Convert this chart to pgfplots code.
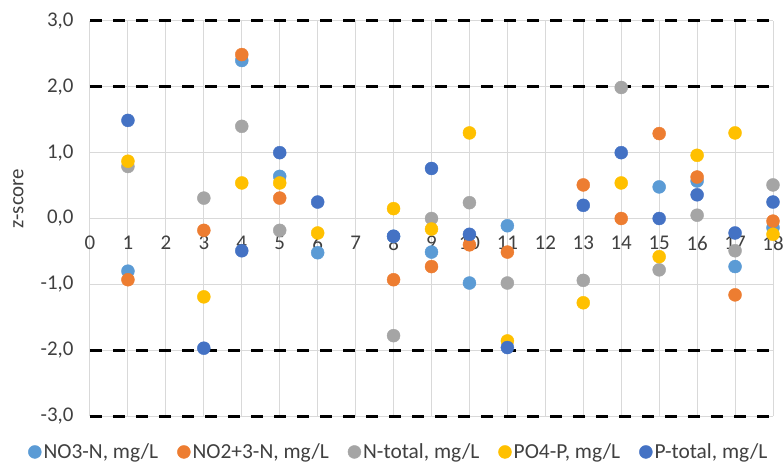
\documentclass[border=0pt]{standalone}
\usepackage{fontspec}
\setmainfont{Carlito}
\usepackage{pgfplots}
\pgfplotsset{compat=1.18}
\definecolor{cLB}{HTML}{5B9BD5}
\definecolor{cOR}{HTML}{ED7D31}
\definecolor{cGR}{HTML}{A5A5A5}
\definecolor{cYE}{HTML}{FFC000}
\definecolor{cBL}{HTML}{4472C4}
\definecolor{gridc}{HTML}{D9D9D9}
\definecolor{txt}{HTML}{404040}
\begin{document}
\begin{tikzpicture}
\path[use as bounding box] (-90bp,-55bp) rectangle (693bp,416bp);
\begin{axis}[
  scale only axis, width=683bp, height=395bp,
  xmin=0, xmax=18, ymin=-3, ymax=3,
  axis x line=middle, axis y line=left,
  axis line style={-, draw=gridc, line width=1bp},
  hide obscured x ticks=false, hide obscured y ticks=false,
  xtick={0,...,18}, ytick={-3,...,3},
  major tick length=0pt,
  grid=major, major grid style={draw=gridc, line width=1bp},
  /pgf/number format/assume math mode=true,
  yticklabel={\pgfmathprintnumber[fixed, fixed zerofill, precision=1, use comma, assume math mode=true]{\tick}},
  tick label style={font=\fontsize{21}{24}\selectfont, text=txt},
  yticklabel style={xshift=-13bp},
  xticklabel style={yshift=-14bp},
  ylabel={z-score},
  ylabel style={font=\fontsize{21}{24}\selectfont, text=txt, at={(axis description cs:-0.105,0.55)}, anchor=center, rotate=0},
  legend columns=5,
  legend style={at={(0.452,-0.091)}, anchor=center, draw=none, fill=none,
    font=\fontsize{21.5}{24}\selectfont, text=txt,
    /tikz/every even column/.append style={column sep=17bp},
    inner sep=0pt},
  legend image code/.code={\fill (0bp,0bp) circle (6.5bp);},
  clip=false,
]
\addplot[black, line width=3bp, dash pattern=on 12bp off 11bp, forget plot] coordinates {(0,3) (18,3)};
\addplot[black, line width=3bp, dash pattern=on 12bp off 11bp, forget plot] coordinates {(0,2) (18,2)};
\addplot[black, line width=3bp, dash pattern=on 12bp off 11bp, forget plot] coordinates {(0,-2) (18,-2)};
\addplot[black, line width=3bp, dash pattern=on 12bp off 11bp, forget plot] coordinates {(0,-3) (18,-3)};
% NO3-N
\addplot[only marks, mark=*, mark size=6.5bp, color=cLB, fill=cLB] coordinates {
(1,-0.80) (4,2.40) (5,0.64) (6,-0.52) (8,-0.27) (9,-0.51) (10,-0.98) (11,-0.11)
(15,0.48) (16,0.57) (17,-0.73) (18,-0.14)};
\addlegendentry{NO3-N, mg/L}
% NO2+3-N
\addplot[only marks, mark=*, mark size=6.5bp, color=cOR, fill=cOR] coordinates {
(1,-0.93) (3,-0.18) (4,2.49) (5,0.31) (8,-0.93) (9,-0.73) (10,-0.40) (11,-0.51)
(13,0.51) (14,0.0) (15,1.29) (16,0.63) (17,-1.16) (18,-0.04)};
\addlegendentry{NO2+3-N, mg/L}
% N-total
\addplot[only marks, mark=*, mark size=6.5bp, color=cGR, fill=cGR] coordinates {
(1,0.79) (3,0.31) (4,1.40) (5,-0.18) (8,-1.78) (9,0.0) (10,0.24) (11,-0.98)
(13,-0.94) (14,1.99) (15,-0.78) (16,0.05) (17,-0.49) (18,0.51)};
\addlegendentry{N-total, mg/L}
% PO4-P
\addplot[only marks, mark=*, mark size=6.5bp, color=cYE, fill=cYE] coordinates {
(1,0.87) (3,-1.19) (4,0.54) (5,0.54) (6,-0.22) (8,0.15) (9,-0.16) (10,1.30) (11,-1.86)
(13,-1.28) (14,0.54) (15,-0.58) (16,0.96) (17,1.30) (18,-0.24)};
\addlegendentry{PO4-P, mg/L}
% P-total
\addplot[only marks, mark=*, mark size=6.5bp, color=cBL, fill=cBL] coordinates {
(1,1.49) (3,-1.97) (4,-0.49) (5,1.00) (6,0.25) (8,-0.27) (9,0.76) (10,-0.24) (11,-1.96)
(13,0.20) (14,1.00) (15,0.0) (16,0.36) (17,-0.22) (18,0.25)};
\addlegendentry{P-total, mg/L}
\end{axis}
\end{tikzpicture}
\end{document}
